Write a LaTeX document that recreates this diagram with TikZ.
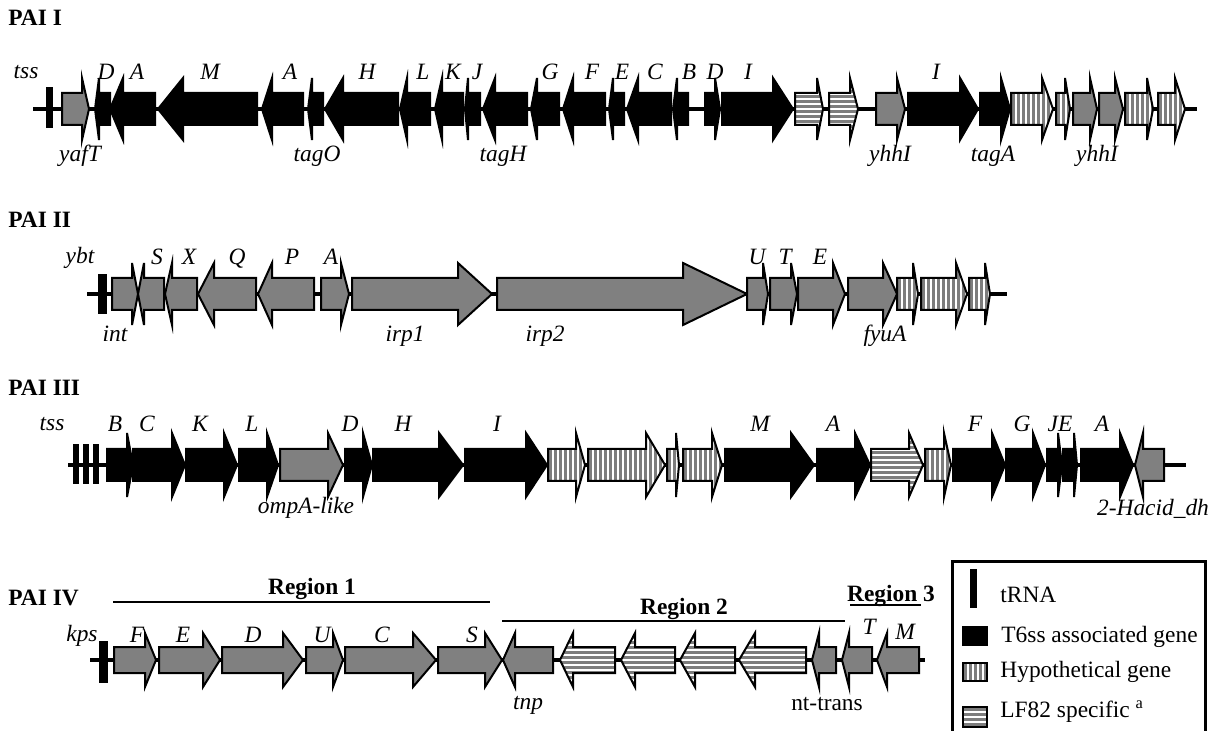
\documentclass[tikz,border=0pt]{standalone}
\usepackage{fontspec}
\setmainfont{Liberation Serif}
\definecolor{genegray}{RGB}{128,128,128}
\definecolor{stripecol}{RGB}{125,125,125}
\tikzset{
  gene/.style={draw=black, line width=1pt, line join=miter},
  blk/.style={gene, fill=black},
  gry/.style={gene, fill=genegray},
  stripeline/.style={draw=stripecol, line width=1.1pt},
  bbone/.style={line width=2pt},
  trna/.style={fill=black},
  lab/.style={font=\fontsize{11.7}{13}\selectfont\itshape, inner sep=0pt, anchor=base},
  rlab/.style={font=\fontsize{11.7}{13}\selectfont, inner sep=0pt, anchor=base},
  ttl/.style={font=\fontsize{11.7}{13}\selectfont\bfseries, inner sep=0pt, anchor=base west},
  reg/.style={font=\fontsize{11.7}{13}\selectfont\bfseries, inner sep=0pt, anchor=base},
  regline/.style={line width=1pt},
  legtxt/.style={font=\fontsize{11.7}{13}\selectfont, inner sep=0pt, anchor=base west},
}
% stripe fillers over [x0,x1] x [yc-gh, yc+gh]
\newcommand\vstripes[2]{\pgfmathtruncatemacro\nst{(#2-#1)/5}%
  \foreach \i in {0,...,\nst}{\path[stripeline] (#1+2.5+\i*5,\yc-\gh) -- (#1+2.5+\i*5,\yc+\gh);}}
\newcommand\hstripes[2]{%
  \foreach \i in {-27.5,-22.5,...,27.5}{\path[stripeline] (#1,\yc+\i) -- (#2,\yc+\i);}}
% rightward gene: start, head base, tip, style
\newcommand\gR[4]{\path[#4] (#1,\yc-\gb) -- (#2,\yc-\gb) -- (#2,\yc-\gh) -- (#3,\yc) -- (#2,\yc+\gh) -- (#2,\yc+\gb) -- (#1,\yc+\gb) -- cycle;}
% leftward gene: tip, head base, end, style
\newcommand\gL[4]{\path[#4] (#1,\yc) -- (#2,\yc-\gh) -- (#2,\yc-\gb) -- (#3,\yc-\gb) -- (#3,\yc+\gb) -- (#2,\yc+\gb) -- (#2,\yc+\gh) -- cycle;}
% striped rightward gene: start, head base, tip, v|h
\newcommand\gRs[4]{\begin{scope}
  \clip (#1,\yc-\gb) -- (#2,\yc-\gb) -- (#2,\yc-\gh) -- (#3,\yc) -- (#2,\yc+\gh) -- (#2,\yc+\gb) -- (#1,\yc+\gb) -- cycle;
  \fill[white] (#1,\yc-\gh) rectangle (#3,\yc+\gh);
  \csname #4stripes\endcsname{#1}{#3}
  \end{scope}\gR{#1}{#2}{#3}{gene}}
% striped leftward gene: tip, head base, end, v|h
\newcommand\gLs[4]{\begin{scope}
  \clip (#1,\yc) -- (#2,\yc-\gh) -- (#2,\yc-\gb) -- (#3,\yc-\gb) -- (#3,\yc+\gb) -- (#2,\yc+\gb) -- (#2,\yc+\gh) -- cycle;
  \fill[white] (#1,\yc-\gh) rectangle (#3,\yc+\gh);
  \csname #4stripes\endcsname{#1}{#3}
  \end{scope}\gL{#1}{#2}{#3}{gene}}
\begin{document}
\begin{tikzpicture}[x=0.5pt,y=-0.5pt]
\useasboundingbox (0,0) rectangle (1220,731);
\fill[white] (0,0) rectangle (1220,731);

%================ PAI I
\node[ttl] (t1) at (8,26) {PAI I};
\def\yc{109}\def\gb{16}\def\gh{31}
\coordinate (b1s) at (33,\yc); \coordinate (b1e) at (1197,\yc);
\draw[bbone] (b1s) -- (b1e);
\fill[trna] (46,87) rectangle (53,128);
\gR{62}{82}{89}{gry}
\gL{95}{99}{110}{blk}
\gL{110}{123}{155}{blk}
\gL{158}{183}{257}{blk}
\gL{262}{272}{303}{blk}
\gL{308}{312}{323}{blk}
\gL{325}{343}{398}{blk}
\gL{400}{407}{430}{blk}
\gL{435}{442}{463}{blk}
\gL{465}{468}{480}{blk}
\gL{483}{495}{527}{blk}
\gL{531}{537}{559}{blk}
\gL{563}{573}{605}{blk}
\gL{609}{613}{624}{blk}
\gL{627}{638}{671}{blk}
\gL{673}{677}{688}{blk}
\gR{705}{715}{720}{blk}
\gR{722}{773}{793}{blk}
\gRs{795}{817}{823}{h}
\gRs{829}{850}{858}{h}
\gR{876}{897}{905}{gry}
\gR{908}{960}{978}{blk}
\gR{980}{1001}{1010}{blk}
\gRs{1011}{1042}{1053}{v}
\gRs{1056}{1065}{1070}{v}
\gR{1073}{1090}{1097}{gry}
\gR{1099}{1115}{1123}{gry}
\gRs{1125}{1147}{1153}{v}
\gRs{1158}{1175}{1185}{v}
\node[lab] (l1tss) at (26,79) {tss};
\node[lab] (l1a) at (106,80) {D};
\node[lab] (l1b) at (137,80) {A};
\node[lab] (l1c) at (210,80) {M};
\node[lab] (l1d) at (290,80) {A};
\node[lab] (l1e) at (367,80) {H};
\node[lab] (l1f) at (423,80) {L};
\node[lab] (l1g) at (453,80) {K};
\node[lab] (l1h) at (477,80) {J};
\node[lab] (l1i) at (550,80) {G};
\node[lab] (l1j) at (592,80) {F};
\node[lab] (l1k) at (622,80) {E};
\node[lab] (l1l) at (655,80) {C};
\node[lab] (l1m) at (689,80) {B};
\node[lab] (l1n) at (715,80) {D};
\node[lab] (l1o) at (748,80) {I};
\node[lab] (l1p) at (936,80) {I};
\node[lab] (l1q) at (80,162) {yafT};
\node[lab] (l1r) at (317,162) {tagO};
\node[lab] (l1s) at (503,162) {tagH};
\node[lab] (l1t) at (890,162) {yhhI};
\node[lab] (l1u) at (993,162) {tagA};
\node[lab] (l1v) at (1097,162) {yhhI};

%================ PAI II
\node[ttl] (t2) at (8,228) {PAI II};
\def\yc{294}\def\gb{16}\def\gh{31}
\coordinate (b2s) at (87,\yc); \coordinate (b2e) at (1007,\yc);
\draw[bbone] (b2s) -- (b2e);
\fill[trna] (98,274) rectangle (107,314);
\gR{112}{132}{138}{gry}
\gL{138}{144}{164}{gry}
\gL{165}{172}{197}{gry}
\gL{198}{214}{256}{gry}
\gL{258}{272}{314}{gry}
\gR{321}{341}{349}{gry}
\gR{352}{458}{492}{gry}
\gR{497}{683}{747}{gry}
\gR{747}{763}{768}{gry}
\gR{770}{791}{797}{gry}
\gR{798}{833}{845}{gry}
\gR{848}{883}{897}{gry}
\gRs{897}{913}{918}{v}
\gRs{921}{956}{967}{v}
\gRs{969}{985}{990}{v}
\node[lab] (l2ybt) at (80,264) {ybt};
\node[lab] (l2a) at (157,265) {S};
\node[lab] (l2b) at (189,265) {X};
\node[lab] (l2c) at (237,265) {Q};
\node[lab] (l2d) at (292,265) {P};
\node[lab] (l2e) at (331,265) {A};
\node[lab] (l2f) at (757,265) {U};
\node[lab] (l2g) at (785,265) {T};
\node[lab] (l2h) at (820,265) {E};
\node[lab] (l2i) at (115,342) {int};
\node[lab] (l2j) at (405,342) {irp1};
\node[lab] (l2k) at (545,342) {irp2};
\node[lab] (l2l) at (885,342) {fyuA};

%================ PAI III
\node[ttl] (t3) at (8,396) {PAI III};
\def\yc{465}\def\gb{16}\def\gh{32}
\coordinate (b3s) at (68,\yc); \coordinate (b3e) at (1186,\yc);
\draw[bbone] (b3s) -- (b3e);
\fill[trna] (73,444) rectangle (79,484);
\fill[trna] (83,444) rectangle (89,484);
\fill[trna] (93,444) rectangle (99,484);
\gR{107}{127}{133}{blk}
\gR{133}{172}{185}{blk}
\gR{186}{224}{237}{blk}
\gR{239}{267}{278}{blk}
\gR{280}{328}{343}{gry}
\gR{345}{363}{372}{blk}
\gR{373}{439}{463}{blk}
\gR{465}{526}{547}{blk}
\gRs{548}{576}{585}{v}
\gRs{588}{646}{665}{v}
\gRs{667}{676}{679}{v}
\gRs{683}{712}{722}{v}
\gR{725}{791}{814}{blk}
\gR{817}{855}{870}{blk}
\gRs{871}{909}{923}{h}
\gRs{925}{944}{951}{v}
\gR{953}{992}{1005}{blk}
\gR{1006}{1033}{1045}{blk}
\gR{1047}{1058}{1062}{blk}
\gR{1063}{1074}{1077}{blk}
\gR{1081}{1120}{1133}{blk}
\gL{1135}{1143}{1164}{gry}
\node[lab] (l3tss) at (52,431) {tss};
\node[lab] (l3a) at (115,432) {B};
\node[lab] (l3b) at (147,432) {C};
\node[lab] (l3c) at (200,432) {K};
\node[lab] (l3d) at (252,432) {L};
\node[lab] (l3e) at (350,432) {D};
\node[lab] (l3f) at (403,432) {H};
\node[lab] (l3g) at (497,432) {I};
\node[lab] (l3h) at (760,432) {M};
\node[lab] (l3i) at (833,432) {A};
\node[lab] (l3j) at (975,432) {F};
\node[lab] (l3k) at (1022,432) {G};
\node[lab] (l3l) at (1060,432) {JE};
\node[lab] (l3m) at (1102,432) {A};
\node[lab] (l3n) at (306,514) {ompA-like};
\node[lab] (l3o) at (1153,516) {2-Hacid\_dh};

%================ PAI IV
\node[ttl] (t4) at (8,605) {PAI IV};
\coordinate (r1s) at (113,602); \coordinate (r1e) at (490,602);
\draw[regline] (r1s) -- (r1e);
\node[reg] (r1) at (312,595) {Region 1};
\coordinate (r2s) at (502,621); \coordinate (r2e) at (845,621);
\draw[regline] (r2s) -- (r2e);
\node[reg] (r2) at (684,614) {Region 2};
\coordinate (r3s) at (850,605); \coordinate (r3e) at (921,605);
\draw[regline] (r3s) -- (r3e);
\node[reg] (r3) at (891,601) {Region 3};
\def\yc{660}\def\gb{13}\def\gh{27}
\coordinate (b4s) at (90,\yc); \coordinate (b4e) at (925,\yc);
\draw[bbone] (b4s) -- (b4e);
\fill[trna] (99,641) rectangle (108,683);
\gR{114}{145}{156}{gry}
\gR{159}{203}{220}{gry}
\gR{222}{283}{303}{gry}
\gR{306}{333}{343}{gry}
\gR{345}{413}{436}{gry}
\gR{438}{485}{502}{gry}
\gL{503}{515}{553}{gry}
\gLs{560}{573}{615}{h}
\gLs{621}{635}{675}{h}
\gLs{680}{695}{735}{h}
\gLs{739}{755}{806}{h}
\gL{812}{819}{836}{gry}
\gL{842}{849}{872}{gry}
\gL{877}{887}{919}{gry}
\node[lab] (l4kps) at (82,641) {kps};
\node[lab] (l4a) at (137,642) {F};
\node[lab] (l4b) at (183,642) {E};
\node[lab] (l4c) at (253,642) {D};
\node[lab] (l4d) at (322,642) {U};
\node[lab] (l4e) at (382,642) {C};
\node[lab] (l4f) at (472,642) {S};
\node[lab] (l4g) at (869,634) {T};
\node[lab] (l4h) at (905,639) {M};
\node[lab] (l4i) at (528,709) {tnp};
\node[rlab] (l4j) at (827,710) {nt-trans};

%================ Legend
\draw[line width=1.5pt] (952,561) rectangle (1205,760);
\fill[trna] (970,569) rectangle (977,608);
\node[legtxt] (lg1) at (1000,603) {tRNA};
\path[blk] (963,627) rectangle (987,645);
\node[legtxt] (lg2) at (1001,642) {T6ss associated gene};
\def\yc{672}\def\gh{9}
\begin{scope}
  \clip (963,663) rectangle (987,681);
  \fill[white] (963,663) rectangle (987,681);
  \vstripes{963}{987}
\end{scope}
\path[gene] (963,663) rectangle (987,681);
\node[legtxt] (lg3) at (1000,677) {Hypothetical gene};
\def\yc{717}\def\gh{10}
\begin{scope}
  \clip (963,707) rectangle (987,727);
  \fill[white] (963,707) rectangle (987,727);
  \hstripes{963}{987}
\end{scope}
\path[gene] (963,707) rectangle (987,727);
\node[legtxt] (lg4) at (1000,717) {LF82 specific \textsuperscript{a}};
\end{tikzpicture}
\end{document}
